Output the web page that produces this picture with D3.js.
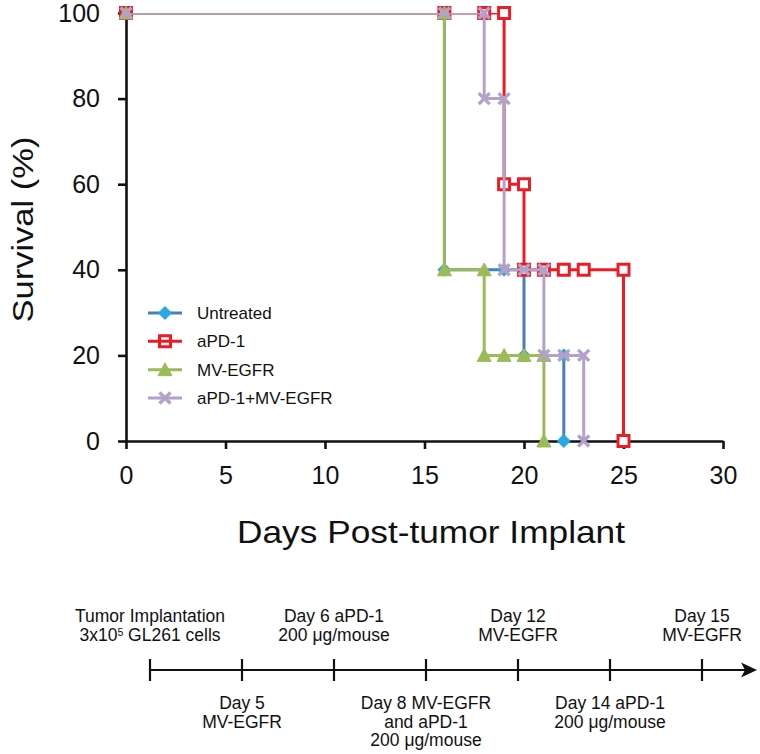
<!DOCTYPE html>
<html><head><meta charset="utf-8">
<script src="https://cdn.jsdelivr.net/npm/d3@7"></script>
<style>
body{margin:0;background:#fff}
svg{display:block}
text{font-family:"Liberation Sans",Arial,Helvetica,sans-serif;fill:#111}
</style>
</head><body>
<svg id="chart" width="760" height="754"></svg>
<script>
// ---------------- data ----------------
const seriesNames = ["Untreated", "aPD-1", "MV-EGFR", "aPD-1+MV-EGFR"];
const untreatedDays = [0, 16, 16, 19, 20, 20, 22, 22];
const untreatedSurv = [100, 100, 40, 40, 40, 20, 20, 0];
const apd1Days = [0, 16, 18, 19, 19, 20, 20, 21, 22, 23, 25, 25];
const apd1Surv = [100, 100, 100, 100, 60, 60, 40, 40, 40, 40, 40, 0];
const mvDays = [0, 16, 16, 18, 18, 19, 20, 21, 21];
const mvSurv = [100, 100, 40, 40, 20, 20, 20, 20, 0];
const comboDays = [0, 16, 18, 18, 19, 19, 20, 21, 21, 22, 23, 23];
const comboSurv = [100, 100, 100, 80, 80, 40, 40, 40, 20, 20, 20, 0];
const xTicks = [0, 5, 10, 15, 20, 25, 30];
const yTicks = [0, 20, 40, 60, 80, 100];
const xTitle = "Days Post-tumor Implant";
const yTitle = "Survival (%)";

const timelineDays = [0, 5, 6, 8, 12, 14, 15];
const timelineLabels = [
  ["Tumor Implantation", "3x10^5 GL261 cells"],
  ["Day 5", "MV-EGFR"],
  ["Day 6 aPD-1", "200 \u03bcg/mouse"],
  ["Day 8 MV-EGFR", "and aPD-1", "200 \u03bcg/mouse"],
  ["Day 12", "MV-EGFR"],
  ["Day 14 aPD-1", "200 \u03bcg/mouse"],
  ["Day 15", "MV-EGFR"]
];
const timelineSide = ["above", "below", "above", "below", "above", "below", "above"];

// ---------------- styles ----------------
const lineColors = ["#4A7EBB", "#ED1C24", "#9BBB59", "#B3A2C7"];
const markerFill = ["#27A8E0", "#FFFFFF", "#9BBB59", "none"];
const markerStroke = ["#27A8E0", "#ED1C24", "#9BBB59", "#B3A2C7"];
const markerStrokeW = [1, 3, 1, 3.4];
const markerShapes = [
  "M0,-6.5L6.5,0L0,6.5L-6.5,0Z",
  "M-5.5,-5.5H5.5V5.5H-5.5Z",
  "M0,-6.8L7,6L-7,6Z",
  "M-5.5,-5.5L5.5,5.5M5.5,-5.5L-5.5,5.5"
];

const series = [
  untreatedDays.map((d, i) => [d, untreatedSurv[i]]),
  apd1Days.map((d, i) => [d, apd1Surv[i]]),
  mvDays.map((d, i) => [d, mvSurv[i]]),
  comboDays.map((d, i) => [d, comboSurv[i]])
];

const svg = d3.select("#chart");
const x = d3.scaleLinear().domain([0, 30]).range([126, 723]);
const y = d3.scaleLinear().domain([0, 100]).range([441, 13]);

// ---------------- axes ----------------
const gx = svg.append("g").attr("transform", "translate(0,441)")
  .call(d3.axisBottom(x).tickValues(xTicks).tickSize(8).tickSizeOuter(0).tickPadding(17));
const gy = svg.append("g").attr("transform", "translate(126,0)")
  .call(d3.axisLeft(y).tickValues(yTicks).tickSize(8).tickSizeOuter(0).tickPadding(18));
[gx, gy].forEach(g => {
  g.select(".domain").attr("stroke", "#111").attr("stroke-width", 2.6);
  g.selectAll(".tick line").attr("stroke", "#111").attr("stroke-width", 2.6);
  g.selectAll(".tick text").attr("font-size", 25).attr("fill", "#111")
    .style("font-family", '"Liberation Sans",Arial,sans-serif');
});

svg.append("text").attr("x", 431).attr("y", 543).attr("text-anchor", "middle")
  .attr("font-size", 32).attr("textLength", 388).attr("lengthAdjust", "spacingAndGlyphs")
  .text(xTitle);
svg.append("text").attr("transform", "translate(33,229.5) rotate(-90)").attr("text-anchor", "middle")
  .attr("font-size", 30).attr("textLength", 186).attr("lengthAdjust", "spacingAndGlyphs")
  .text(yTitle);

// ---------------- series ----------------
svg.append("clipPath").attr("id", "plotClip").append("rect")
  .attr("x", x(0)).attr("y", y(100)).attr("width", x(30) - x(0)).attr("height", y(0) - y(100));

const line = d3.line().x(d => x(d[0])).y(d => y(d[1]));
series.forEach((pts, i) => {
  const g = svg.append("g");
  g.append("path").attr("d", line(pts)).attr("fill", "none")
    .attr("stroke", lineColors[i]).attr("stroke-width", 3)
    .attr("stroke-linejoin", "round").attr("clip-path", "url(#plotClip)");
  g.selectAll("path.m").data(pts).join("path").attr("class", "m")
    .attr("transform", d => `translate(${x(d[0])},${y(d[1])})`)
    .attr("d", markerShapes[i])
    .attr("fill", markerFill[i]).attr("stroke", markerStroke[i])
    .attr("stroke-width", markerStrokeW[i]);
});

// ---------------- legend ----------------
const ly = d3.scalePoint().domain(seriesNames).range([313, 398]);
seriesNames.forEach((name, i) => {
  const g = svg.append("g").attr("transform", `translate(0,${ly(name)})`);
  g.append("line").attr("x1", 148).attr("x2", 182).attr("stroke", lineColors[i]).attr("stroke-width", 3);
  g.append("path").attr("transform", "translate(165,0)").attr("d", markerShapes[i])
    .attr("fill", i === 1 ? "none" : markerFill[i]).attr("stroke", markerStroke[i])
    .attr("stroke-width", markerStrokeW[i]);
  g.append("text").attr("x", 197).attr("dy", "0.36em").attr("font-size", 17).text(name);
});

// ---------------- timeline ----------------
const ty = 670;
const tx = d3.scalePoint().domain(timelineDays).range([150, 702]);
const tl = svg.append("g");
tl.append("line").attr("x1", tx(timelineDays[0])).attr("x2", 748).attr("y1", ty).attr("y2", ty)
  .attr("stroke", "#111").attr("stroke-width", 2.2);
tl.append("path").attr("d", `M757,${ty}L741,${ty - 7.5}L745,${ty}L741,${ty + 7.5}Z`).attr("fill", "#111");
tl.selectAll("line.tk").data(timelineDays).join("line").attr("class", "tk")
  .attr("x1", d => tx(d)).attr("x2", d => tx(d)).attr("y1", ty - 11).attr("y2", ty + 11)
  .attr("stroke", "#111").attr("stroke-width", 2.2);

timelineDays.forEach((d, i) => {
  const lines = timelineLabels[i];
  const above = timelineSide[i] === "above";
  lines.forEach((txt, j) => {
    const base = above ? 641 - (lines.length - 1 - j) * 19.5 : 709 + j * 18.5;
    const t = tl.append("text").attr("x", tx(d)).attr("y", base).attr("text-anchor", "middle")
      .attr("font-size", 17.5);
    if (txt.includes("^")) {
      const [a, rest] = txt.split("^");
      t.append("tspan").text(a);
      t.append("tspan").attr("dy", -5.5).attr("font-size", 10.5).text(rest[0]);
      t.append("tspan").attr("dy", 5.5).text(rest.slice(1));
    } else {
      t.text(txt);
    }
  });
});
</script>
</body></html>
